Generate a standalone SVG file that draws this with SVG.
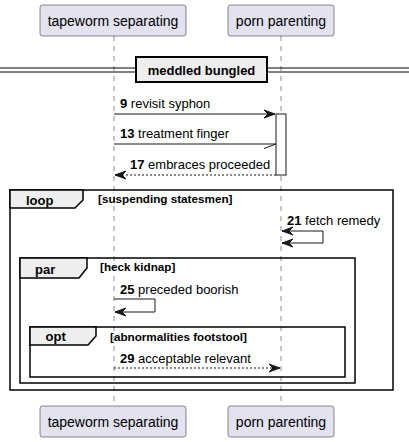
<svg xmlns="http://www.w3.org/2000/svg" width="409" height="442" viewBox="0 0 409 442">
<style>
.part rect{fill:#E2E2F0;stroke:#181818;stroke-width:0.5}
.part text{font-family:"Liberation Sans",Arial,sans-serif;font-size:14px;fill:#000;text-anchor:middle}
.life{stroke:#181818;stroke-width:0.5;stroke-dasharray:5,5}
.msg{stroke:#181818;stroke-width:1;fill:none}
.dash{stroke-dasharray:2,2}
.lbl{font-family:"Liberation Sans",Arial,sans-serif;font-size:13px;fill:#000}
.num{font-weight:bold}
.frame{fill:none;stroke:#000;stroke-width:1.5}
.tab{fill:#EEEEEE;stroke:#000;stroke-width:1.5}
.ftitle{font-family:"Liberation Sans",Arial,sans-serif;font-size:13px;font-weight:bold}
.cond{font-family:"Liberation Sans",Arial,sans-serif;font-size:11.7px;font-weight:bold}
.head{fill:#181818;stroke:#181818;stroke-width:1}
</style>
<g id="lifelines">
<line class="life" x1="114" y1="36" x2="114" y2="406"/>
<line class="life" x1="281" y1="36" x2="281" y2="406"/>
</g>
<g id="participant-tapeworm" class="part">
<rect x="40" y="5" width="146" height="31" rx="2.5"/>
<text x="113" y="25.5">tapeworm separating</text>
<rect x="40" y="406" width="146" height="31" rx="2.5"/>
<text x="113" y="426.5">tapeworm separating</text>
</g>
<g id="participant-porn" class="part">
<rect x="228" y="5" width="106" height="31" rx="2.5"/>
<text x="281" y="25.5">porn parenting</text>
<rect x="228" y="406" width="106" height="31" rx="2.5"/>
<text x="281" y="426.5">porn parenting</text>
</g>
<g id="divider">
<line x1="0" y1="68" x2="409" y2="68" stroke="#000" stroke-width="1"/>
<line x1="0" y1="72" x2="409" y2="72" stroke="#000" stroke-width="1"/>
<rect x="136" y="57" width="131" height="25" fill="#EEEEEE" stroke="#000" stroke-width="2"/>
<text x="201.5" y="74.5" text-anchor="middle" class="ftitle">meddled bungled</text>
</g>
<g id="activation">
<rect x="276" y="114" width="10" height="61" fill="#fff" stroke="#181818" stroke-width="1"/>
</g>
<g id="frame-loop">
<rect class="frame" x="10" y="190" width="383" height="200"/>
<path class="tab" d="M10,190 H83 V200 L75,208 H10 Z"/>
<text class="ftitle" x="26" y="204.5">loop</text>
<text class="cond" x="98" y="202.5">[suspending statesmen]</text>
</g>
<g id="frame-par">
<rect class="frame" x="20" y="258" width="335" height="125"/>
<path class="tab" d="M20,258 H87 V268 L79,278 H20 Z"/>
<text class="ftitle" x="35" y="274">par</text>
<text class="cond" x="100" y="271">[heck kidnap]</text>
</g>
<g id="frame-opt">
<rect class="frame" x="30" y="327" width="315" height="50"/>
<path class="tab" d="M30,327 H96 V336 L88,345 H30 Z"/>
<text class="ftitle" x="45.5" y="340.5">opt</text>
<text class="cond" x="110" y="341">[abnormalities footstool]</text>
</g>
<g id="connectors">
<line class="msg" x1="114" y1="114" x2="275" y2="114"/>
<polygon class="head" points="264,110 275,114 264,118 268,114"/>
<text class="lbl" x="120" y="108"><tspan class="num">9</tspan> revisit syphon</text>

<line class="msg" x1="114" y1="144" x2="276" y2="144"/>
<line class="msg" x1="264" y1="148.5" x2="276" y2="144"/>
<text class="lbl" x="120" y="138"><tspan class="num">13</tspan> treatment finger</text>

<line class="msg dash" x1="276" y1="175" x2="115" y2="175"/>
<polygon class="head" points="126,171 115,175 126,179 122,175"/>
<text class="lbl" x="130" y="169"><tspan class="num">17</tspan> embraces proceeded</text>

<polyline class="msg" points="282,231 323,231 323,243 282,243"/>
<polygon class="head" points="293,227 282,231 293,235 289,231"/>
<polygon class="head" points="293,239 282,243 293,247 289,243"/>
<text class="lbl" x="287" y="225"><tspan class="num">21</tspan> fetch remedy</text>

<polyline class="msg" points="114,299 155,299 155,312 115,312"/>
<polygon class="head" points="126,308 115,312 126,316 122,312"/>
<text class="lbl" x="120" y="294"><tspan class="num">25</tspan> preceded boorish</text>

<line class="msg dash" x1="114" y1="368" x2="280" y2="368"/>
<polygon class="head" points="269,364 280,368 269,372 273,368"/>
<text class="lbl" x="120" y="363"><tspan class="num">29</tspan> acceptable relevant</text>
</g>
</svg>
